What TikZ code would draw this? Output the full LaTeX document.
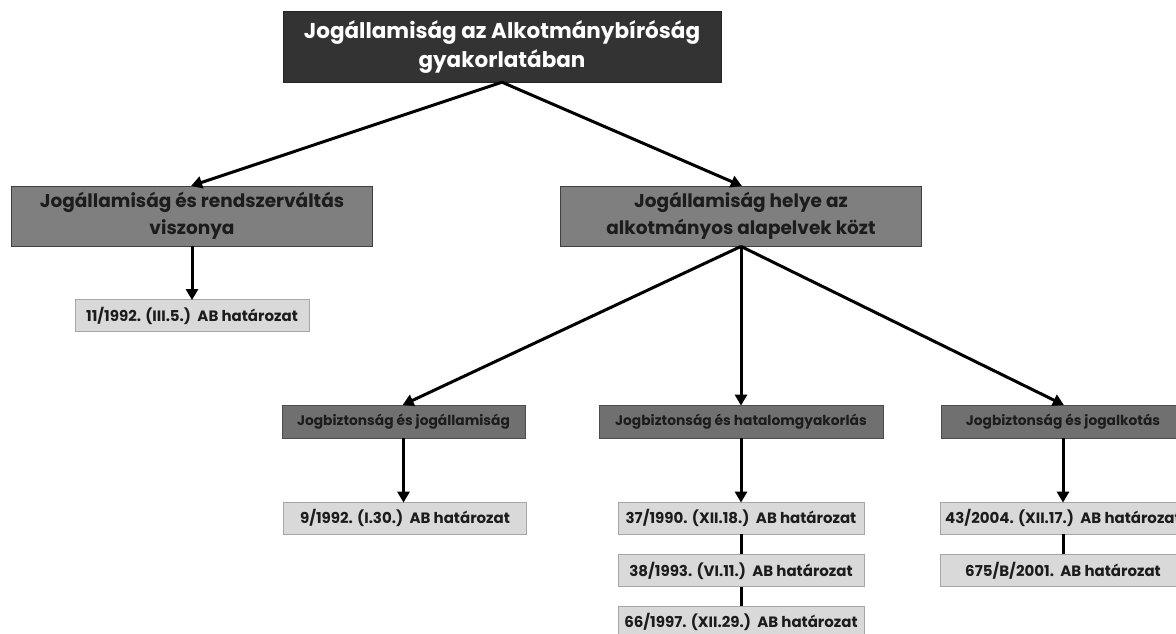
\documentclass[tikz,border=0pt]{standalone}
\usepackage{fontspec}
\setmainfont{Poppins}
\usepackage{xcolor}
\usetikzlibrary{arrows.meta}
\definecolor{topgray}{HTML}{333333}
\definecolor{midgray}{HTML}{7F7F7F}
\definecolor{subgray}{HTML}{707070}
\definecolor{leafgray}{HTML}{D9D9D9}
\definecolor{inkgray}{HTML}{1C1C1C}
\begin{document}
\begin{tikzpicture}[x=1pt, y=-1pt,
  topbox/.style={fill=topgray, draw=topgray!70!black, text=white, font=\fontsize{21.5}{29}\selectfont\bfseries, align=center, minimum width=438pt, minimum height=71pt, inner sep=0pt},
  midbox/.style={fill=midgray, draw=black!75, line width=0.8pt, text=inkgray, font=\fontsize{18.5}{27}\selectfont\bfseries, align=center, minimum width=361pt, minimum height=60pt, inner sep=0pt},
  subbox/.style={fill=subgray, draw=black!70, line width=0.8pt, text=inkgray, font=\fontsize{13.8}{15}\selectfont\bfseries, minimum height=33pt, inner sep=0pt},
  leafbox/.style={fill=leafgray, draw=black!35, line width=0.8pt, text=inkgray, font=\fontsize{15}{17}\selectfont\bfseries, minimum width=246pt, minimum height=32pt, inner sep=0pt},
  arr/.style={line width=3pt, -{Triangle[length=11pt, width=12pt]}, shorten >=-1pt},
  conn/.style={line width=3pt}]
  \useasboundingbox (0,0) rectangle (1176,633);
  \clip (0,0) rectangle (1176,633);
  \fill[white] (0,0) rectangle (1176,633);
  % top level
  \node[topbox] (top) at (502,46.5) {Jogállamiság az Alkotmánybíróság\\gyakorlatában};
  % second level
  \node[midbox] (rel) at (192,216) {Jogállamiság és rendszerváltás\\viszonya};
  \node[midbox] (place) at (741,216) {Jogállamiság helye az\\alkotmányos alapelvek közt};
  % third level
  \node[subbox, minimum width=243pt] (jall) at (403.5,421.5) {Jogbiztonság és jogállamiság};
  \node[subbox, minimum width=284pt] (hat) at (741,421.5) {Jogbiztonság és hatalomgyakorlás};
  \node[subbox, minimum width=244pt] (jalk) at (1063,421.5) {Jogbiztonság és jogalkotás};
  % decisions
  \node[leafbox, minimum width=234pt] (d11) at (192,315.5) {11/1992. (III.5.)\ \ AB határozat};
  \node[leafbox, minimum width=243pt] (d9) at (405,518) {9/1992. (I.30.)\ \ AB határozat};
  \node[leafbox] (d37) at (741,518) {37/1990. (XII.18.)\ \ AB határozat};
  \node[leafbox] (d38) at (741,570.5) {38/1993. (VI.11.)\ \ AB határozat};
  \node[leafbox] (d66) at (741,622) {66/1997. (XII.29.)\ \ AB határozat};
  \node[leafbox] (d43) at (1063,518) {43/2004. (XII.17.)\ \ AB határozat};
  \node[leafbox] (d675) at (1063,570.5) {675/B/2001.\ \ AB határozat};
  % arrows
  \draw[arr] (top.south) -- (rel.north);
  \draw[arr] (top.south) -- (place.north);
  \draw[arr] (rel.south) -- (d11.north);
  \draw[arr] (place.south) -- (jall.north);
  \draw[arr] (place.south) -- (hat.north);
  \draw[arr] (place.south) -- (jalk.north);
  \draw[arr] (jall.south) -- (jall.south |- d9.north);
  \draw[arr] (hat.south) -- (d37.north);
  \draw[arr] (jalk.south) -- (d43.north);
  \draw[conn] (d37.south) -- (d38.north);
  \draw[conn] (d38.south) -- (d66.north);
  \draw[conn] (d43.south) -- (d675.north);
\end{tikzpicture}
\end{document}
